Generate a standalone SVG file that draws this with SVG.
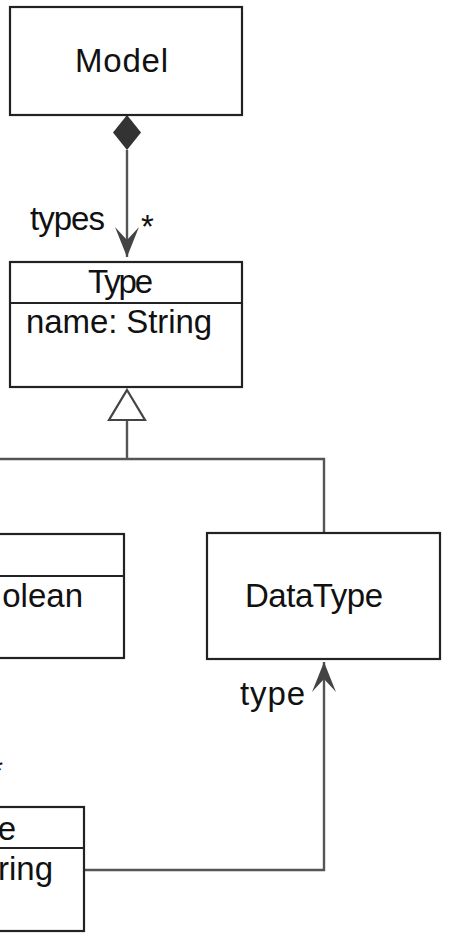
<svg xmlns="http://www.w3.org/2000/svg" width="475" height="933" viewBox="0 0 475 933">
<style>
.box{fill:#fff;stroke:#222;stroke-width:2.2}
.div{stroke:#222;stroke-width:2.2}
.t{font-family:"Liberation Sans",Arial,sans-serif;font-size:33px;fill:#111}
.c{fill:none;stroke:#555;stroke-width:2.4}
</style>
<defs>
<marker id="arr" markerUnits="userSpaceOnUse" viewBox="-31 -13 32 26" markerWidth="32" markerHeight="26" refX="0" refY="0" orient="auto">
<path d="M0,0 L-30,-12 L-17,0 L-30,12 Z" fill="#444"/>
</marker>
</defs>
<rect width="475" height="933" fill="#fff"/>
<g id="connectors">
<path class="c" d="M127,150 V257" marker-end="url(#arr)"/>
<polygon points="127,115 141,132.5 127,150 113,132.5" fill="#333"/>
<path class="c" d="M127,420 V459 M-5,459 H324 V534"/>
<polygon points="127,390 145,420 109,420" fill="#fff" stroke="#444" stroke-width="2.2"/>
<path class="c" d="M84,870 H324 V662" marker-end="url(#arr)"/>
<text class="t" x="30" y="230" textLength="75">types</text>
<text class="t" x="141" y="238">*</text>
<text class="t" x="240" y="705" textLength="65">type</text>
<text class="t" x="3" y="782" text-anchor="end">*</text>
</g>
<g id="Model">
<rect class="box" x="10" y="7" width="232" height="108"/>
<text class="t" x="75" y="72" textLength="93">Model</text>
</g>
<g id="Type">
<rect class="box" x="10" y="262" width="232" height="125"/>
<line class="div" x1="10" y1="303" x2="242" y2="303"/>
<text class="t" x="88" y="293" textLength="65">Type</text>
<text class="t" x="26" y="333" textLength="186">name: String</text>
</g>
<g id="BooleanType">
<rect class="box" x="-20" y="534" width="144" height="124"/>
<line class="div" x1="-20" y1="576" x2="124" y2="576"/>
<text class="t" x="83" y="607" text-anchor="end">olean</text>
</g>
<g id="DataType">
<rect class="box" x="207" y="533" width="233" height="126"/>
<text class="t" x="245" y="607" textLength="138">DataType</text>
</g>
<g id="Attribute">
<rect class="box" x="-20" y="807" width="104" height="124"/>
<line class="div" x1="-20" y1="848" x2="84" y2="848"/>
<text class="t" x="16" y="840" text-anchor="end">e</text>
<text class="t" x="53" y="880" text-anchor="end">ring</text>
</g>
</svg>
